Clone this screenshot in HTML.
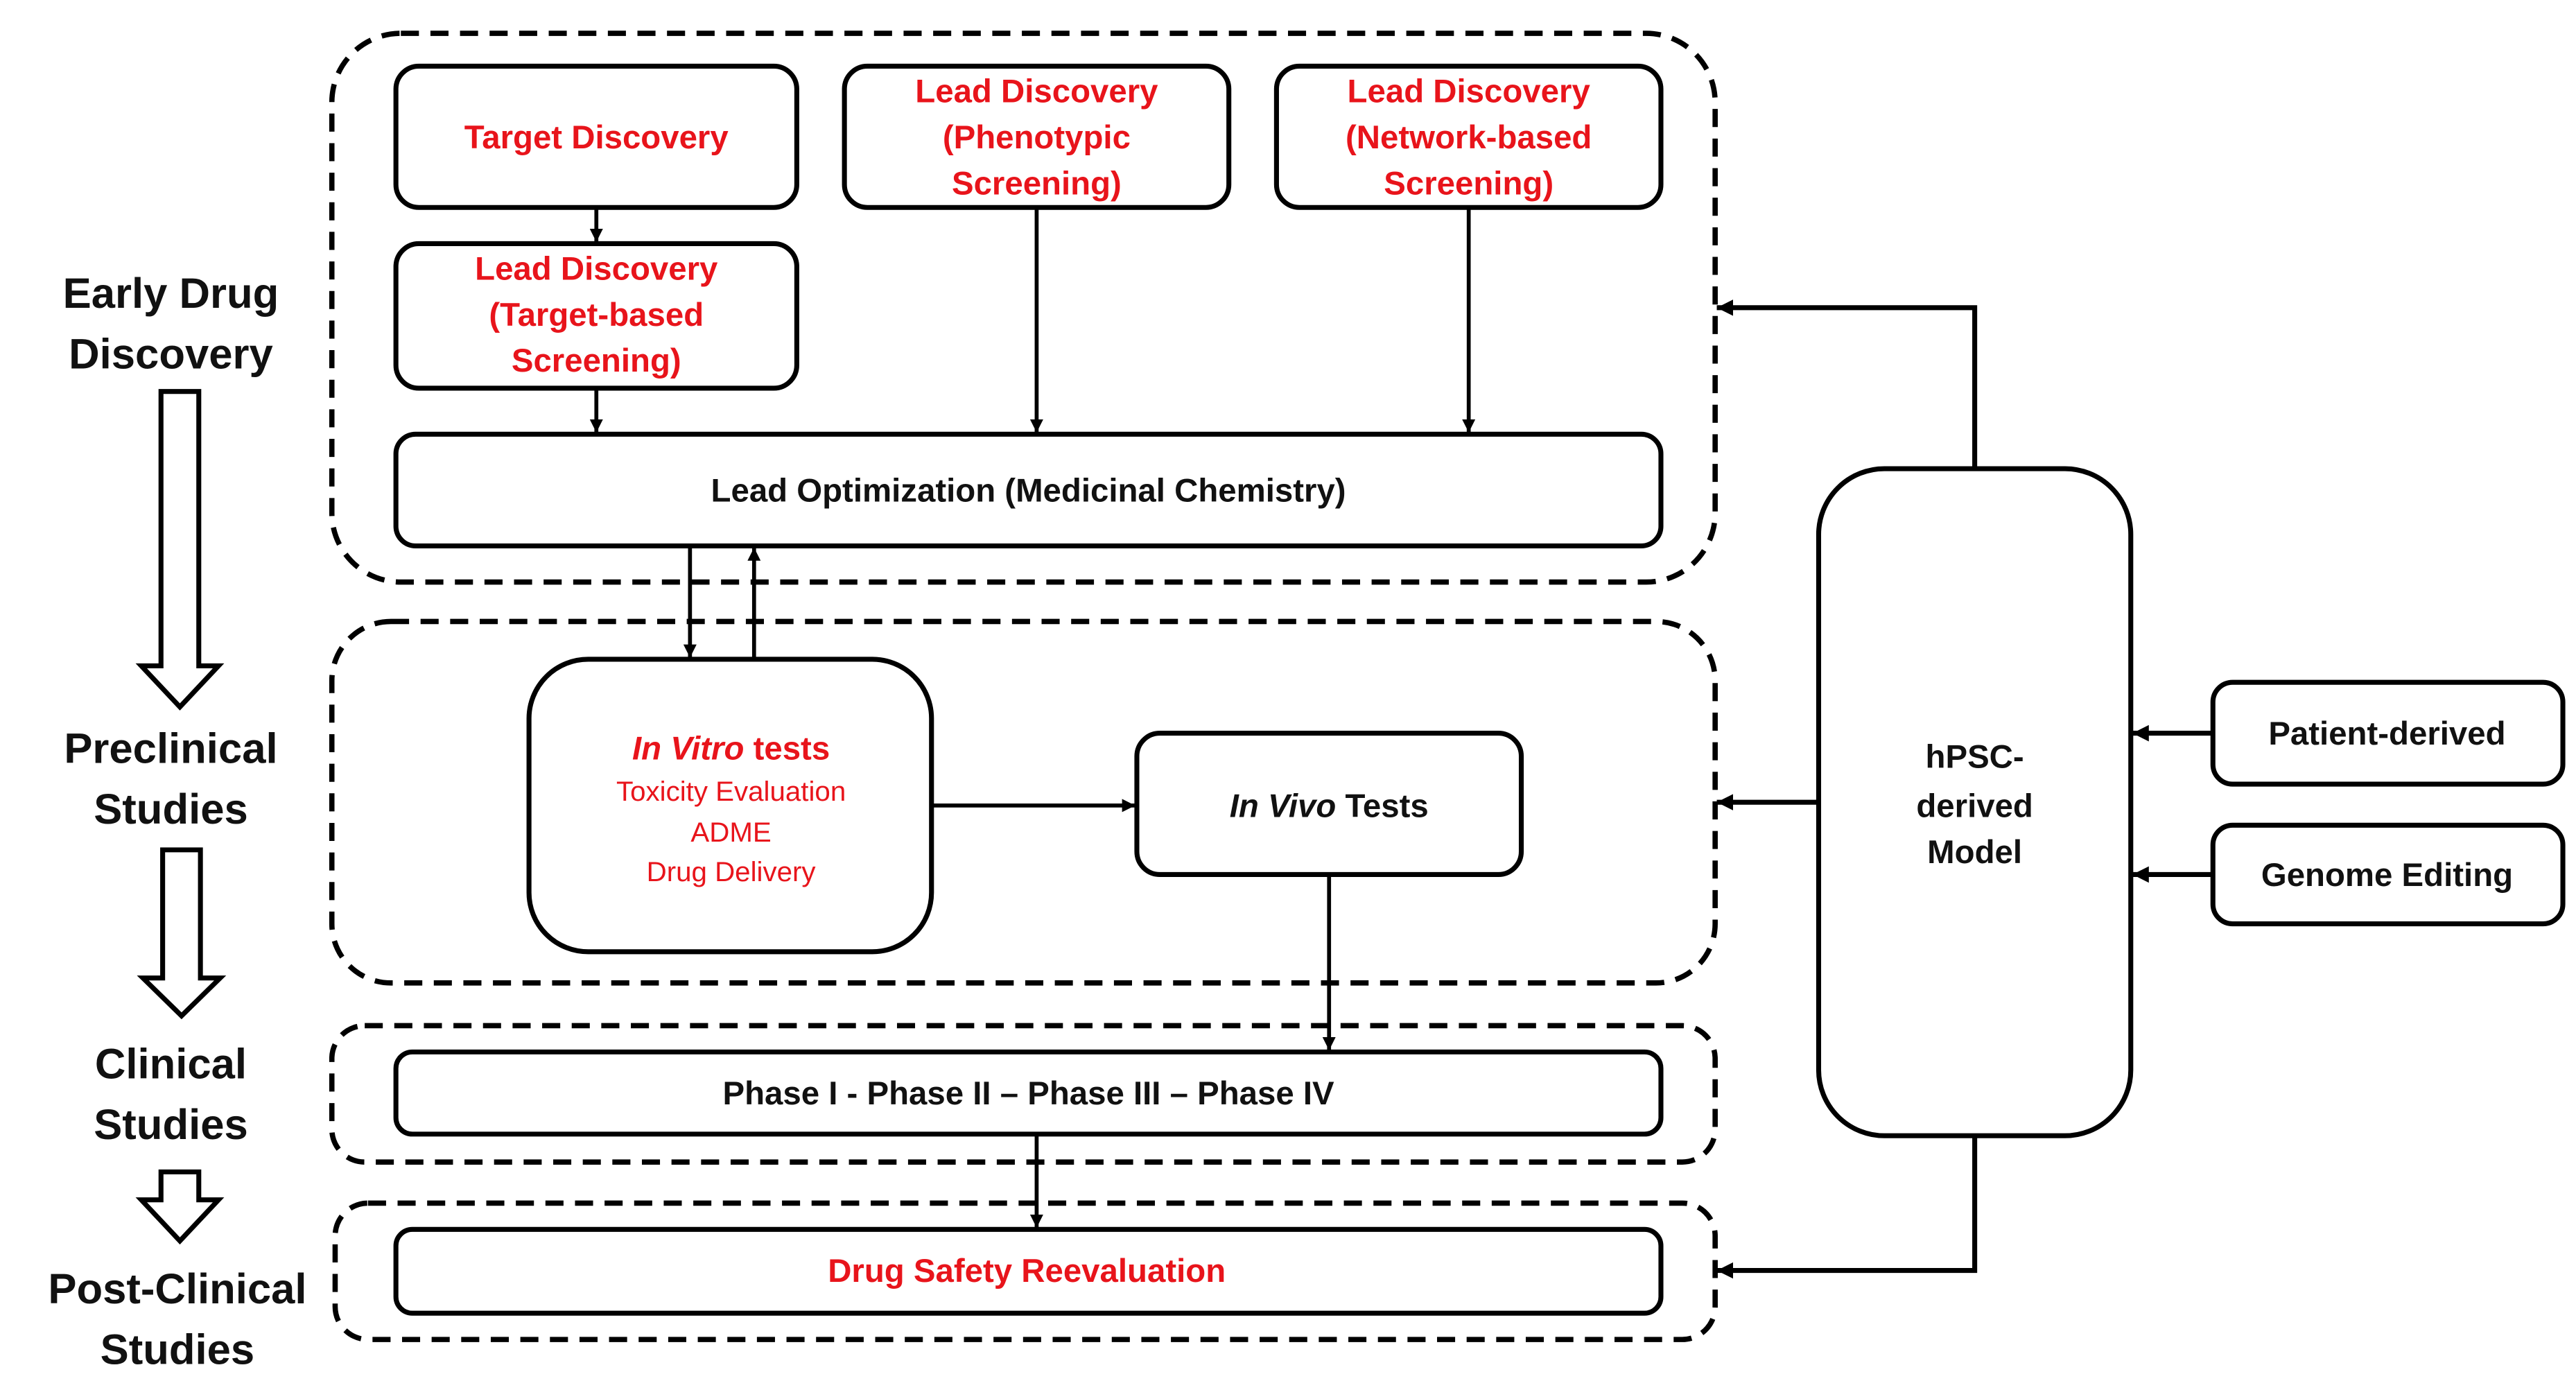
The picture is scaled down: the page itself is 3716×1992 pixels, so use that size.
<!DOCTYPE html>
<html><head><meta charset="utf-8"><style>
html,body{margin:0;padding:0;background:#fff;}
svg{display:block;}
text{font-family:"Liberation Sans",sans-serif;}
</style></head><body>
<svg width="3716" height="1992" viewBox="0 0 1568 840" xmlns="http://www.w3.org/2000/svg">
<defs>
<marker id="a" viewBox="0 0 10 10" refX="10" refY="5" markerWidth="8" markerHeight="8" orient="auto" markerUnits="userSpaceOnUse"><path d="M0,0 L10,5 L0,10 z" fill="#000"/></marker>
<marker id="b" viewBox="0 0 10 10" refX="10" refY="5" markerWidth="10" markerHeight="10" orient="auto" markerUnits="userSpaceOnUse"><path d="M0,0 L10,5 L0,10 z" fill="#000"/></marker>
</defs>
<g fill="none" stroke="#000" stroke-width="3.2" stroke-dasharray="11,7">
<rect x="202" y="20" width="842" height="334" rx="42"/>
<rect x="202" y="378" width="842" height="220" rx="36"/>
<rect x="202" y="624" width="842" height="83" rx="20"/>
<rect x="204" y="732" width="840" height="83" rx="20"/>
</g>
<g fill="#fff" stroke="#000" stroke-width="3">
<rect x="241" y="40" width="244" height="86" rx="14"/>
<rect x="514" y="40" width="234" height="86" rx="14"/>
<rect x="777" y="40" width="234" height="86" rx="14"/>
<rect x="241" y="148" width="244" height="88" rx="14"/>
<rect x="241" y="264" width="770" height="68" rx="12"/>
<rect x="322" y="401" width="245" height="178" rx="36"/>
<rect x="692" y="446" width="234" height="86" rx="14"/>
<rect x="241" y="640" width="770" height="50" rx="10"/>
<rect x="241" y="748" width="770" height="51" rx="10"/>
<rect x="1107" y="285" width="190" height="406" rx="40"/>
<rect x="1347" y="415" width="213" height="62" rx="12"/>
<rect x="1347" y="502" width="213" height="60" rx="12"/>
</g>
<g stroke="#000" stroke-width="2.4" fill="none" marker-end="url(#a)">
<line x1="363" y1="126" x2="363" y2="147"/>
<line x1="363" y1="236" x2="363" y2="263"/>
<line x1="631" y1="126" x2="631" y2="263"/>
<line x1="894" y1="126" x2="894" y2="263"/>
<line x1="420" y1="333" x2="420" y2="400"/>
<line x1="459" y1="401" x2="459" y2="333"/>
<line x1="567" y1="490" x2="691" y2="490"/>
<line x1="809" y1="532" x2="809" y2="639"/>
<line x1="631" y1="690" x2="631" y2="747"/>
</g>
<g stroke="#000" stroke-width="3" fill="none" marker-end="url(#b)">
<polyline points="1202,285 1202,187 1045,187"/>
<line x1="1107" y1="488" x2="1045" y2="488"/>
<polyline points="1202,691 1202,773 1045,773"/>
<line x1="1347" y1="446" x2="1298" y2="446"/>
<line x1="1347" y1="532" x2="1298" y2="532"/>
</g>
<g fill="#fff" stroke="#000" stroke-width="3" stroke-linejoin="miter">
<path d="M98,238 L121,238 L121,405 L133,405 L109.5,430 L86,405 L98,405 z"/>
<path d="M99,517 L122,517 L122,595 L134,595 L110.5,618 L87,595 L99,595 z"/>
<path d="M98,713 L121,713 L121,730 L133,730 L109.5,755 L86,730 L98,730 z"/>
</g>
<g font-size="20" font-weight="bold" fill="#e8141b" text-anchor="middle">
<text x="363" y="90">Target Discovery</text>
<text x="631" y="62">Lead Discovery</text>
<text x="631" y="90">(Phenotypic</text>
<text x="631" y="118">Screening)</text>
<text x="894" y="62">Lead Discovery</text>
<text x="894" y="90">(Network-based</text>
<text x="894" y="118">Screening)</text>
<text x="363" y="170">Lead Discovery</text>
<text x="363" y="198">(Target-based</text>
<text x="363" y="226">Screening)</text>
<text x="625" y="780">Drug Safety Reevaluation</text>
<text x="445" y="462"><tspan font-style="italic">In Vitro</tspan> tests</text>
</g>
<g font-size="17" fill="#e8141b" text-anchor="middle">
<text x="445" y="487">Toxicity Evaluation</text>
<text x="445" y="512">ADME</text>
<text x="445" y="536">Drug Delivery</text>
</g>
<g font-size="20" font-weight="bold" fill="#111" text-anchor="middle">
<text x="626" y="305">Lead Optimization (Medicinal Chemistry)</text>
<text x="626" y="672">Phase I - Phase II – Phase III – Phase IV</text>
<text x="809" y="497"><tspan font-style="italic">In Vivo</tspan> Tests</text>
<text x="1202" y="467">hPSC-</text>
<text x="1202" y="497">derived</text>
<text x="1202" y="525">Model</text>
<text x="1453" y="453">Patient-derived</text>
<text x="1453" y="539">Genome Editing</text>
</g>
<g font-size="26" font-weight="bold" fill="#111" text-anchor="middle">
<text x="104" y="187">Early Drug</text>
<text x="104" y="224">Discovery</text>
<text x="104" y="464">Preclinical</text>
<text x="104" y="501">Studies</text>
<text x="104" y="656">Clinical</text>
<text x="104" y="693">Studies</text>
<text x="108" y="793">Post-Clinical</text>
<text x="108" y="830">Studies</text>
</g>
</svg>
</body></html>
